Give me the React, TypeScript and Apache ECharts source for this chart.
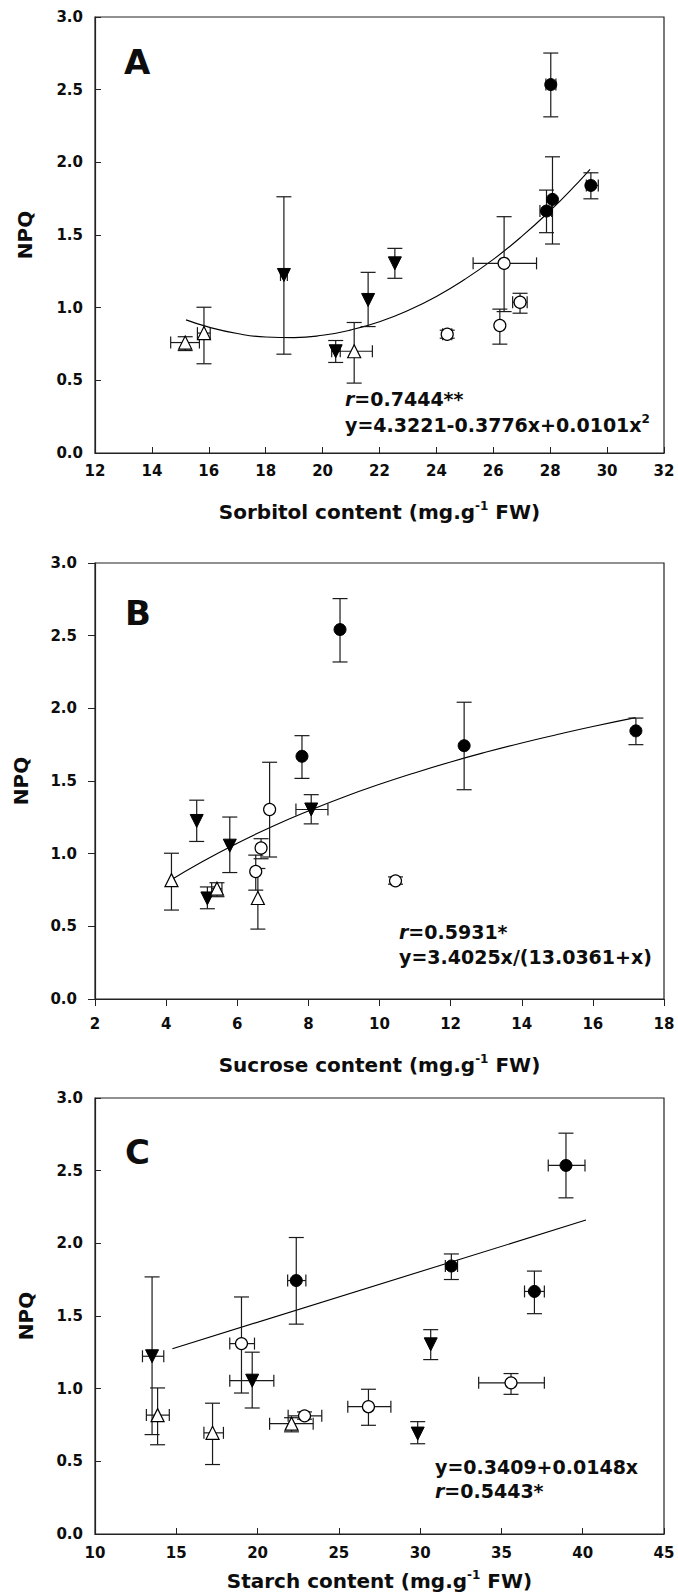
import React, { useEffect, useRef } from "react";
import * as echarts from "echarts";

const FONT = "'DejaVu Sans', 'Liberation Sans', sans-serif";
const INK = "#0d0d0d";

// Each point: [x, y, yLow, yHigh, xLow, xHigh] (null = no horizontal error bar)
// ---------- Panel A : Sorbitol ----------
const A_filledCircle = [
  [28.02, 2.535, 2.313, 2.752, 27.85, 28.2],
  [27.87, 1.665, 1.516, 1.809, 27.64, 28.05],
  [28.08, 1.745, 1.438, 2.038, null, null],
  [29.43, 1.841, 1.749, 1.928, 29.27, 29.69],
];
const A_openCircle = [
  [24.38, 0.817, 0.79, 0.845, 24.22, 24.54],
  [26.23, 0.877, 0.749, 0.99, null, null],
  [26.38, 1.305, 0.973, 1.626, 25.29, 27.52],
  [26.94, 1.037, 0.962, 1.099, 26.68, 27.19],
];
const A_filledDown = [
  [18.64, 1.225, 0.68, 1.763, 18.52, 18.76],
  [20.46, 0.7, 0.623, 0.774, 20.32, 20.62],
  [21.6, 1.053, 0.87, 1.243, null, null],
  [22.54, 1.305, 1.202, 1.408, null, null],
];
const A_openTri = [
  [15.17, 0.76, 0.705, 0.8, 14.66, 15.67],
  [15.83, 0.825, 0.614, 1.003, 15.6, 16.05],
  [21.11, 0.7, 0.481, 0.898, 20.46, 21.75],
];
const A_curveX = [15.2, 16, 17, 18, 19, 20, 21, 22, 23, 24, 25, 26, 27, 28, 29, 29.4];
const A_curveY = [0.916, 0.866, 0.822, 0.798, 0.794, 0.81, 0.847, 0.903, 0.98, 1.077, 1.195, 1.332, 1.49, 1.668, 1.866, 1.951];

// ---------- Panel B : Sucrose ----------
const B_filledCircle = [
  [8.89, 2.542, 2.319, 2.755, null, null],
  [7.82, 1.67, 1.518, 1.812, null, null],
  [12.38, 1.743, 1.44, 2.042, null, null],
  [17.21, 1.845, 1.75, 1.933, null, null],
];
const B_openCircle = [
  [6.91, 1.304, 0.977, 1.629, null, null],
  [6.67, 1.039, 0.965, 1.103, null, null],
  [6.52, 0.877, 0.749, 0.99, null, null],
  [10.45, 0.813, 0.79, 0.84, null, null],
];
const B_filledDown = [
  [4.86, 1.225, 1.084, 1.368, null, null],
  [5.16, 0.692, 0.621, 0.771, null, null],
  [5.79, 1.055, 0.87, 1.252, null, null],
  [8.08, 1.304, 1.205, 1.406, 7.65, 8.55],
];
const B_openTri = [
  [4.15, 0.818, 0.612, 1.003, null, null],
  [5.43, 0.759, 0.704, 0.8, 5.28, 5.57],
  [6.58, 0.695, 0.481, 0.898, null, null],
];
const B_curveX = [4.1, 5, 6, 7, 8, 9, 10, 11, 12, 13, 14, 15, 16, 17.2];
const B_curveY = [0.814, 0.943, 1.072, 1.189, 1.294, 1.39, 1.477, 1.557, 1.631, 1.699, 1.762, 1.82, 1.875, 1.936];

// ---------- Panel C : Starch ----------
const C_filledCircle = [
  [38.97, 2.536, 2.313, 2.758, 37.88, 40.14],
  [22.38, 1.744, 1.444, 2.04, 21.85, 22.97],
  [31.92, 1.844, 1.751, 1.927, 31.55, 32.3],
  [37.03, 1.669, 1.516, 1.809, 36.42, 37.64],
];
const C_openCircle = [
  [19.01, 1.31, 0.97, 1.631, 18.29, 19.81],
  [22.89, 0.813, 0.79, 0.84, 21.88, 23.95],
  [26.82, 0.876, 0.748, 0.996, 25.55, 28.2],
  [35.59, 1.04, 0.961, 1.104, 33.6, 37.64],
];
const C_filledDown = [
  [13.51, 1.223, 0.684, 1.769, 12.92, 14.23],
  [19.67, 1.055, 0.867, 1.251, 18.29, 21.0],
  [30.65, 1.305, 1.2, 1.406, null, null],
  [29.85, 0.691, 0.621, 0.773, null, null],
];
const C_openTri = [
  [13.85, 0.818, 0.614, 1.005, 13.16, 14.57],
  [17.23, 0.696, 0.478, 0.9, 16.7, 17.9],
  [22.09, 0.759, 0.703, 0.8, 20.74, 23.42],
];
const C_lineX = [14.76, 40.2];
const C_lineY = [1.275, 2.16];

// Tick settings
const yTicks = { min: 0, max: 3, interval: 0.5 };
const A_xTicks = { min: 12, max: 32, interval: 2 };
const B_xTicks = { min: 2, max: 18, interval: 2 };
const C_xTicks = { min: 10, max: 45, interval: 5 };

const pairs = (xs: number[], ys: number[]) => xs.map((x, i) => [x, ys[i]]);

function errData(...groups: any[][]) {
  const out: any[] = [];
  groups.forEach((g) =>
    g.forEach((d) => out.push([d[0], d[1], d[2], d[3], d[4] == null ? d[0] : d[4], d[5] == null ? d[0] : d[5]]))
  );
  return out;
}

const errRender = (params: any, api: any) => {
  const x = api.value(0);
  const y = api.value(1);
  const yLo = api.value(2);
  const yHi = api.value(3);
  const xLo = api.value(4);
  const xHi = api.value(5);
  const c = api.coord([x, y]);
  const lo = api.coord([x, yLo]);
  const hi = api.coord([x, yHi]);
  const st = { stroke: "#1a1a1a", lineWidth: 1.2 };
  const cw = 7.5;
  const children: any[] = [
    { type: "line", shape: { x1: c[0], y1: lo[1], x2: c[0], y2: hi[1] }, style: st },
    { type: "line", shape: { x1: c[0] - cw, y1: lo[1], x2: c[0] + cw, y2: lo[1] }, style: st },
    { type: "line", shape: { x1: c[0] - cw, y1: hi[1], x2: c[0] + cw, y2: hi[1] }, style: st },
  ];
  if (xLo !== xHi) {
    const l = api.coord([xLo, y]);
    const h = api.coord([xHi, y]);
    const ch = 6;
    children.push(
      { type: "line", shape: { x1: l[0], y1: c[1], x2: h[0], y2: c[1] }, style: st },
      { type: "line", shape: { x1: l[0], y1: c[1] - ch, x2: l[0], y2: c[1] + ch }, style: st },
      { type: "line", shape: { x1: h[0], y1: c[1] - ch, x2: h[0], y2: c[1] + ch }, style: st }
    );
  }
  return { type: "group", children };
};

function panelSeries(idx: number, fc: any[], oc: any[], fd: any[], ot: any[], fit: number[][], smooth: boolean) {
  const base = { xAxisIndex: idx, yAxisIndex: idx };
  const xy = (g: any[]) => g.map((d) => [d[0], d[1]]);
  return [
    {
      ...base,
      type: "line",
      data: fit,
      smooth,
      showSymbol: false,
      lineStyle: { color: "#000", width: 1.1 },
      z: 2,
    },
    {
      ...base,
      type: "custom",
      renderItem: errRender,
      data: errData(fc, oc, fd, ot),
      encode: { x: 0, y: 1 },
      z: 3,
    },
    {
      ...base,
      type: "scatter",
      data: xy(fc),
      symbol: "circle",
      symbolSize: 12,
      itemStyle: { color: "#000", borderColor: "#000", borderWidth: 1, opacity: 1 },
      z: 5,
    },
    {
      ...base,
      type: "scatter",
      data: xy(oc),
      symbol: "circle",
      symbolSize: 12,
      itemStyle: { color: "#fff", borderColor: "#000", borderWidth: 1.2, opacity: 1 },
      z: 5,
    },
    {
      ...base,
      type: "scatter",
      data: xy(fd),
      symbol: "triangle",
      symbolRotate: 180,
      symbolSize: 13,
      itemStyle: { color: "#000", borderColor: "#000", borderWidth: 1, opacity: 1 },
      z: 5,
    },
    {
      ...base,
      type: "scatter",
      data: xy(ot),
      symbol: "triangle",
      symbolSize: 13,
      itemStyle: { color: "#fff", borderColor: "#000", borderWidth: 1.2, opacity: 1 },
      z: 5,
    },
  ];
}

const nameRich = {
  t: { fontSize: 20, fontWeight: "bold", fontFamily: FONT, color: INK, lineHeight: 24 },
  s: { fontSize: 12, fontWeight: "bold", fontFamily: FONT, color: INK, lineHeight: 12, verticalAlign: "top" },
};

function xAxis(idx: number, ticks: any, name: string, nameGap: number, inside: boolean, labelMargin: number) {
  return {
    type: "value",
    gridIndex: idx,
    ...ticks,
    name: `{t|${name} (mg.g}{s|-1}{t| FW)}`,
    nameLocation: "middle",
    nameGap,
    nameTextStyle: { rich: nameRich },
    axisLine: { show: true, onZero: false, lineStyle: { color: "#222", width: 1.2 } },
    axisTick: { show: true, inside, length: inside ? 6 : 7, lineStyle: { color: "#222", width: 1 } },
    axisLabel: { margin: labelMargin, fontSize: 15, fontWeight: "bold", fontFamily: FONT, color: INK },
    splitLine: { show: false },
  };
}

function yAxis(idx: number, nameGap: number, inside: boolean, labelMargin: number) {
  return {
    type: "value",
    gridIndex: idx,
    ...yTicks,
    name: "NPQ",
    nameLocation: "middle",
    nameGap,
    nameRotate: 90,
    nameTextStyle: { fontSize: 20, fontWeight: "bold", fontFamily: FONT, color: INK },
    axisLine: { show: true, onZero: false, lineStyle: { color: "#222", width: 1.2 } },
    axisTick: { show: true, inside, length: inside ? 6 : 7, lineStyle: { color: "#222", width: 1 } },
    axisLabel: {
      margin: labelMargin,
      fontSize: 15,
      fontWeight: "bold",
      fontFamily: FONT,
      color: INK,
      formatter: (v: number) => v.toFixed(1),
    },
    splitLine: { show: false },
  };
}

const annRich = {
  i: { fontSize: 19, fontWeight: "bold", fontStyle: "italic", fontFamily: FONT, fill: INK, lineHeight: 24 },
  b: { fontSize: 19, fontWeight: "bold", fontFamily: FONT, fill: INK, lineHeight: 24 },
  s: { fontSize: 12, fontWeight: "bold", fontFamily: FONT, fill: INK, lineHeight: 12, verticalAlign: "top" },
};

function label(text: string, x: number, y: number) {
  return {
    type: "text",
    x,
    y,
    style: { text, fontSize: 34, fontWeight: "bold", fontFamily: FONT, fill: INK, verticalAlign: "middle" },
  };
}
function ann(text: string, x: number, y: number) {
  return {
    type: "text",
    x,
    y,
    style: { text, rich: annRich, verticalAlign: "middle", fill: INK, fontFamily: FONT },
  };
}

export default function App() {
  const ref = useRef<HTMLDivElement>(null);
  useEffect(() => {
    if (!ref.current) return;
    const chart = echarts.init(ref.current, undefined, { renderer: "svg" });
    const gridBase = { left: 95, width: 569, height: 436, show: true, borderColor: "#222", borderWidth: 1.2, containLabel: false };
    chart.setOption({
      animation: false,
      backgroundColor: "#fff",
      grid: [
        { ...gridBase, top: 17 },
        { ...gridBase, top: 563 },
        { ...gridBase, top: 1098 },
      ],
      xAxis: [
        xAxis(0, A_xTicks, "Sorbitol content", 47, true, 10),
        xAxis(1, B_xTicks, "Sucrose content", 54, false, 17),
        xAxis(2, C_xTicks, "Starch content", 35, true, 11),
      ],
      yAxis: [yAxis(0, 60, true, 12), yAxis(1, 64, false, 18), yAxis(2, 59, true, 12)],
      series: [
        ...panelSeries(0, A_filledCircle, A_openCircle, A_filledDown, A_openTri, pairs(A_curveX, A_curveY), true),
        ...panelSeries(1, B_filledCircle, B_openCircle, B_filledDown, B_openTri, pairs(B_curveX, B_curveY), true),
        ...panelSeries(2, C_filledCircle, C_openCircle, C_filledDown, C_openTri, pairs(C_lineX, C_lineY), false),
      ],
      graphic: [
        label("A", 124, 62),
        label("B", 125, 613),
        label("C", 125, 1152),
        ann("{i|r}{b|=0.7444**}", 345, 399),
        ann("{b|y=4.3221-0.3776x+0.0101x}{s|2}", 345, 425),
        ann("{i|r}{b|=0.5931*}", 399, 932),
        ann("{b|y=3.4025x/(13.0361+x)}", 399, 957),
        ann("{b|y=0.3409+0.0148x}", 435, 1467),
        ann("{i|r}{b|=0.5443*}", 435, 1491),
      ],
    });
    return () => chart.dispose();
  }, []);
  return (
    <div
      ref={ref}
      style={{ position: "absolute", left: 0, top: 0, width: 678, height: 1594, background: "#fff" }}
    />
  );
}
